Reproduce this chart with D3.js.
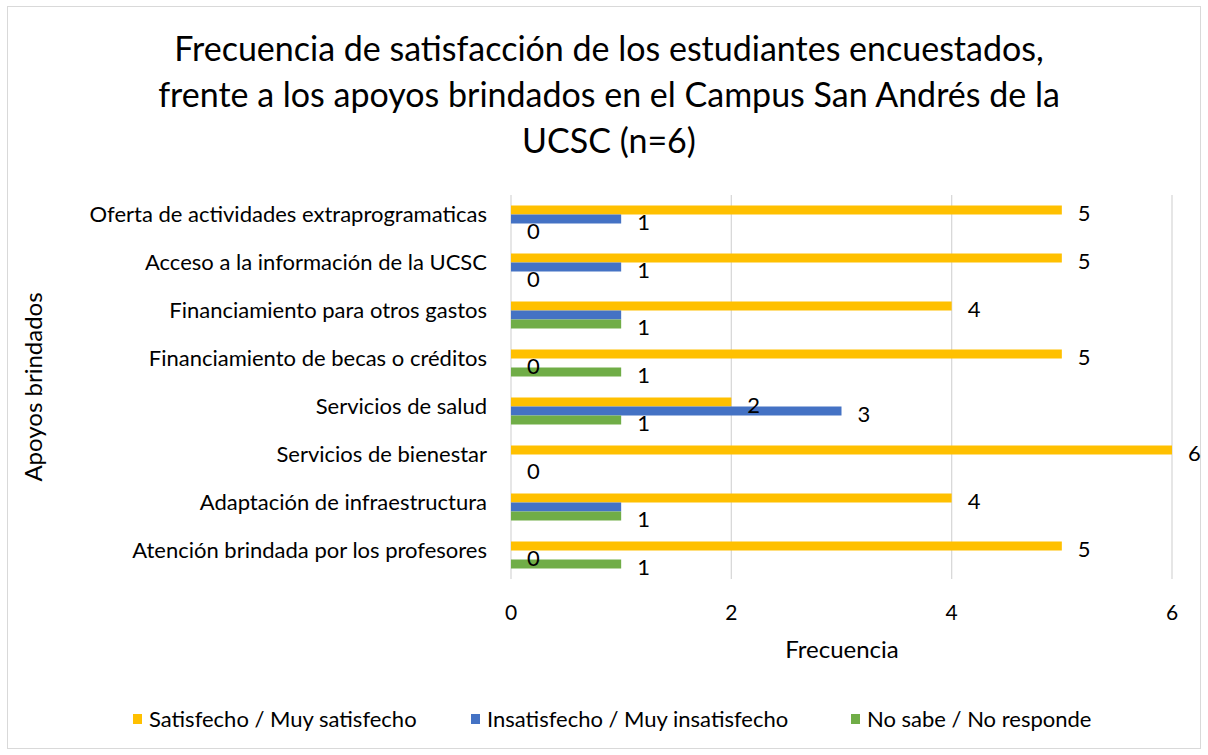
<!DOCTYPE html>
<html>
<head>
<meta charset="utf-8">
<script src="https://cdn.jsdelivr.net/npm/d3@7"></script>
<style>
  body { margin: 0; background: #fff; }
  svg text { font-family: Lato, "Open Sans", sans-serif; fill: #000; }
</style>
</head>
<body>
<svg id="chart" width="1208" height="755"></svg>
<script>
// Categories, top to bottom
const categories = [
    "Oferta de actividades extraprogramaticas",
    "Acceso a la información de la UCSC",
    "Financiamiento para otros gastos",
    "Financiamiento de becas o créditos",
    "Servicios de salud",
    "Servicios de bienestar",
    "Adaptación de infraestructura",
    "Atención brindada por los profesores"
];

// Series values (null = no data)
const satisfecho = [5, 5, 4, 5, 2, 6, 4, 5];
const insatisfecho = [1, 1, 1, 0, 3, null, 1, 0];
const noSabe = [0, 0, 1, 1, 1, 0, 1, 1];

// which data labels are shown in the original
const showSatisfecho = [true, true, true, true, true, true, true, true];
const showInsatisfecho = [true, true, false, true, true, false, false, true];
const showNoSabe = [true, true, true, true, true, true, true, true];

const seriesNames = ["Satisfecho / Muy satisfecho", "Insatisfecho / Muy insatisfecho", "No sabe / No responde"];
const seriesColors = ["#FFC000", "#4472C4", "#70AD47"];
const xTicks = [0, 2, 4, 6];

const titleLines = [
    "Frecuencia de satisfacción de los estudiantes encuestados,",
    "frente a los apoyos brindados en el Campus San Andrés de la",
    "UCSC (n=6)"
];

const series = [satisfecho, insatisfecho, noSabe];
const shown = [showSatisfecho, showInsatisfecho, showNoSabe];

const svg = d3.select("#chart");
const plot = { left: 511, right: 1172, top: 195, bottom: 579 };

// outer border
svg.append("rect")
    .attr("x", 7.5).attr("y", 6.5)
    .attr("width", 1193).attr("height", 742)
    .attr("fill", "#fff")
    .attr("stroke", "#d9d9d9");

// title
svg.append("g").selectAll("text")
    .data(titleLines)
    .enter()
    .append("text")
    .attr("x", 609)
    .attr("y", (d, i) => 61 + i * 46)
    .attr("text-anchor", "middle")
    .attr("font-size", 34)
    .attr("fill", "#000")
    .text(d => d);

const x = d3.scaleLinear().domain([0, 6]).range([plot.left, plot.right]);
const y = d3.scaleBand().domain(categories).range([plot.top, plot.bottom]);
const barH = 9;
const groupOffset = (y.bandwidth() - barH * 3) / 2;

// gridlines
svg.append("g").selectAll("line")
    .data(xTicks)
    .enter()
    .append("line")
    .attr("x1", d => x(d)).attr("x2", d => x(d))
    .attr("y1", plot.top).attr("y2", plot.bottom)
    .attr("stroke", "#d9d9d9")
    .attr("stroke-width", 1.3);

// x tick labels
svg.append("g").selectAll("text")
    .data(xTicks)
    .enter()
    .append("text")
    .attr("x", d => x(d))
    .attr("y", 620)
    .attr("text-anchor", "middle")
    .attr("font-size", 21)
    .attr("fill", "#404040")
    .text(d => d);

// category labels
svg.append("g").selectAll("text")
    .data(categories)
    .enter()
    .append("text")
    .attr("x", 487)
    .attr("y", d => y(d) + y.bandwidth() / 2 + 3)
    .attr("text-anchor", "end")
    .attr("font-size", 22)
    .attr("fill", "#404040")
    .text(d => d);

// bars first, then all data labels on top
const barLayer = svg.append("g");
const labelLayer = svg.append("g");
series.forEach((vals, si) => {
    const rows = categories.map((c, i) => ({ c, v: vals[i], show: shown[si][i] })).filter(d => d.v !== null);
    barLayer.append("g").selectAll("rect")
        .data(rows)
        .enter()
        .append("rect")
        .attr("x", x(0))
        .attr("y", d => y(d.c) + groupOffset + si * barH)
        .attr("width", d => x(d.v) - x(0))
        .attr("height", barH)
        .attr("fill", seriesColors[si]);
    labelLayer.append("g").selectAll("text")
        .data(rows.filter(d => d.show))
        .enter()
        .append("text")
        .attr("x", d => x(d.v) + 16)
        .attr("y", d => y(d.c) + groupOffset + si * barH + barH / 2 + 11)
        .attr("font-size", 22)
        .attr("fill", "#000")
        .text(d => d.v);
});

// axis titles
svg.append("text")
    .attr("x", 842).attr("y", 658)
    .attr("text-anchor", "middle")
    .attr("font-size", 24)
    .text("Frecuencia");

svg.append("text")
    .attr("transform", "translate(42,387) rotate(-90)")
    .attr("text-anchor", "middle")
    .attr("font-size", 24)
    .text("Apoyos brindados");

// legend
const legendX = [133, 471, 851];
const legend = svg.append("g").selectAll("g")
    .data(seriesNames)
    .enter()
    .append("g")
    .attr("transform", (d, i) => `translate(${legendX[i]},714)`);
legend.append("rect")
    .attr("width", 9).attr("height", 10)
    .attr("fill", (d, i) => seriesColors[i]);
legend.append("text")
    .attr("x", 16).attr("y", 13)
    .attr("font-size", 22)
    .attr("fill", "#404040")
    .text(d => d);
</script>
</body>
</html>
